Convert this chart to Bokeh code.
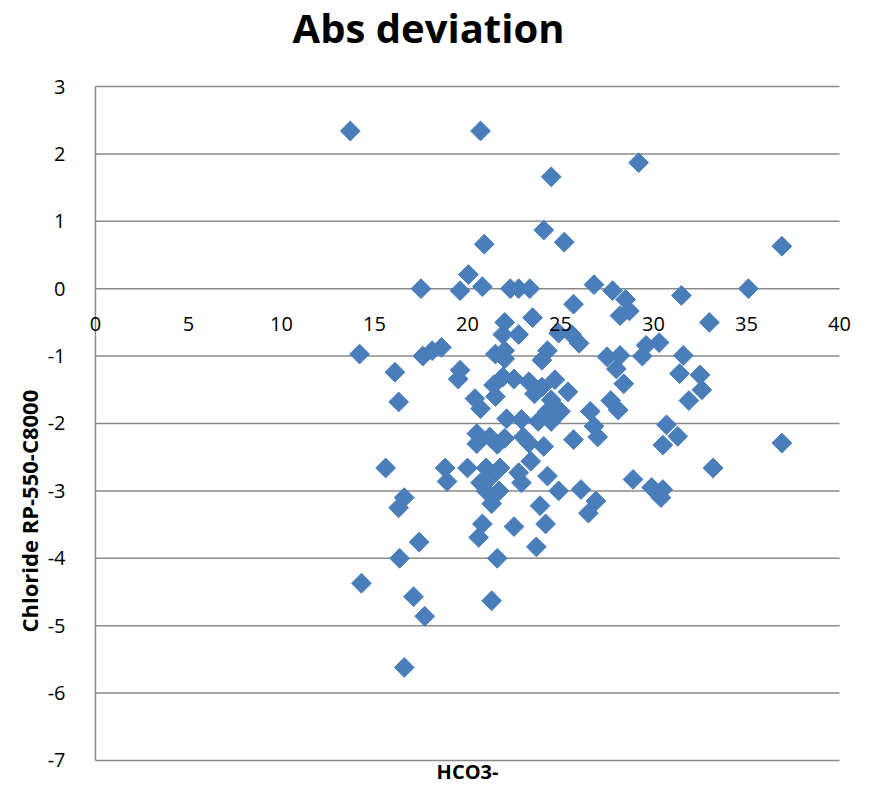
from bokeh.plotting import figure
from bokeh.models import ColumnDataSource, Range1d, FixedTicker, Title, LabelSet, Label
from bokeh.core.properties import value
from bokeh.embed import file_html
from bokeh.resources import INLINE
import math

hco3 = [13.7, 20.7, 24.5, 29.2, 24.1, 25.2, 20.9, 36.9, 20.05, 17.5, 19.6, 20.8, 22.3, 22.75,
        23.35, 26.8, 27.8, 28.5, 31.5, 35.1, 25.7, 28.2, 28.7, 33.0,
        22.0, 21.9, 22.75, 23.5, 24.9, 25.6, 26.0, 14.2, 17.6, 18.1, 18.6, 21.5, 22.0, 22.0,
        24.3, 24.0, 27.5, 28.2, 29.6, 30.3, 29.4, 31.6,
        16.1, 16.3, 19.6, 19.5, 21.9, 22.5, 21.4, 23.3, 24.0, 24.7, 25.4, 20.4, 21.5, 23.6,
        24.5, 20.7, 28.0, 28.4, 31.4, 32.5, 32.6, 31.9, 27.7, 28.1, 26.6, 25.0, 24.3, 22.1,
        22.9, 23.8, 24.5,
        26.8, 27.0, 25.7, 30.7, 31.3, 30.5, 36.9, 20.5, 20.5, 21.2, 21.6, 22.0, 23.0, 23.3,
        24.1, 23.4, 20.0, 21.0, 21.75, 22.75, 22.9, 24.3, 20.7, 21.2, 18.8, 18.9, 15.6, 33.2,
        28.9, 29.9, 30.5, 26.1, 24.9, 21.0, 21.7,
        30.4, 26.9, 26.5, 21.3, 23.9, 16.6, 16.3, 20.8, 22.5, 24.2, 20.6, 17.4, 23.7, 16.35,
        21.6, 14.3, 17.1, 17.7, 21.3, 16.6]
chloride = [2.34, 2.34, 1.66, 1.87, 0.87, 0.69, 0.66, 0.63, 0.21, 0.0, -0.03, 0.03, 0.0, 0.0,
            0.0, 0.06, -0.03, -0.16, -0.10, 0.0, -0.23, -0.40, -0.33, -0.50,
            -0.5, -0.68, -0.68, -0.43, -0.66, -0.68, -0.81, -0.97, -1.0, -0.92, -0.87, -0.97, -1.04, -0.92,
            -0.92, -1.06, -1.01, -0.99, -0.84, -0.8, -1.0, -0.99,
            -1.24, -1.68, -1.21, -1.34, -1.31, -1.34, -1.43, -1.38, -1.46, -1.35, -1.53, -1.63, -1.6, -1.56,
            -1.65, -1.78, -1.19, -1.41, -1.26, -1.28, -1.5, -1.66, -1.66, -1.8, -1.82, -1.82, -1.82, -1.93,
            -1.94, -1.97, -1.97,
            -2.04, -2.2, -2.24, -2.02, -2.19, -2.32, -2.29, -2.15, -2.3, -2.2, -2.31, -2.22, -2.2, -2.29,
            -2.34, -2.56, -2.66, -2.66, -2.66, -2.73, -2.88, -2.78, -2.88, -2.81, -2.66, -2.86, -2.66, -2.66,
            -2.83, -2.95, -2.98, -2.98, -3.0, -3.0, -3.0,
            -3.1, -3.15, -3.33, -3.19, -3.22, -3.1, -3.25, -3.49, -3.53, -3.49, -3.69, -3.76, -3.83, -4.0,
            -4.0, -4.37, -4.57, -4.86, -4.63, -5.62]

x_ticks = [0, 5, 10, 15, 20, 25, 30, 35, 40]
x_tick_labels = ["0", "5", "10", "15", "20", "25", "30", "35", "40"]
y_ticks = [-7, -6, -5, -4, -3, -2, -1, 0, 1, 2, 3]
title_text = "Abs deviation"
x_label = "HCO3-"
y_label = "Chloride RP-550-C8000"

FONT = "Open Sans"
GRID = "#8a8a8a"
X_MIN, X_MAX = x_ticks[0], x_ticks[-1]
Y_MIN, Y_MAX = y_ticks[0], y_ticks[-1]

# frame spans the full height; y=3 sits at ~86px, y=-7 at ~760px
p = figure(width=853, height=786, output_backend="svg", toolbar_location=None,
           x_range=Range1d(X_MIN - 0.75, X_MAX + 0.75),
           y_range=Range1d(Y_MIN - 0.386, Y_MAX + 1.276),
           min_border_left=81, min_border_right=0, min_border_top=0, min_border_bottom=0)
p.outline_line_color = None
p.background_fill_color = "white"

p.xaxis.visible = False
p.xgrid.visible = False
p.ygrid.visible = False

p.yaxis.ticker = FixedTicker(ticks=y_ticks)
p.yaxis.major_label_overrides = {t: str(t) for t in y_ticks}
p.yaxis.axis_line_color = None
p.yaxis.major_tick_line_color = None
p.yaxis.minor_tick_line_color = None
p.yaxis.major_label_standoff = 10
p.yaxis.major_label_text_font = FONT
p.yaxis.major_label_text_font_size = "20px"
p.yaxis.major_label_text_color = "black"

# horizontal gridlines from x=0 to x=40 and the vertical axis line at x=0
p.segment(x0=[X_MIN] * len(y_ticks), x1=[X_MAX] * len(y_ticks), y0=y_ticks, y1=y_ticks,
          line_color=GRID, line_width=1.5)
p.segment(x0=[X_MIN], x1=[X_MIN], y0=[Y_MIN], y1=[Y_MAX], line_color=GRID, line_width=1.5)

# x tick labels along y = 0 (axis crossing)
lab_src = ColumnDataSource(dict(x=x_ticks, y=[0] * len(x_ticks), t=x_tick_labels))
p.add_layout(LabelSet(x="x", y="y", text="t", source=lab_src, text_align="center",
                      text_baseline="middle", y_offset=-35, text_font=value(FONT),
                      text_font_size=value("20px"), text_color=value("black")))

# chart title and x-axis title
p.add_layout(Label(x=(X_MIN + X_MAX) / 2, y=Y_MAX, text=title_text, text_align="center",
                   text_baseline="middle", x_offset=-39, y_offset=59, text_font=FONT,
                   text_font_size="40px", text_font_style="bold", text_color="black"))
p.add_layout(Label(x=(X_MIN + X_MAX) / 2, y=Y_MIN, text=x_label, text_align="center",
                   text_baseline="middle", y_offset=-11, text_font=FONT,
                   text_font_size="20px", text_font_style="bold", text_color="black"))

# y-axis title (left panel, shifted downward as in the original)
p.add_layout(Title(text=y_label, align="left", offset=154, text_font=FONT,
                   text_font_size="22px", text_font_style="bold", text_color="black",
                   standoff=2), "left")

src = ColumnDataSource(dict(x=hco3, y=chloride))
p.scatter(x="x", y="y", source=src, marker="square", size=14, angle=math.pi / 4,
          fill_color="#4a7ebb", line_color="#4a7ebb", line_width=1)

open("out.html", "w").write(file_html(p, INLINE))
